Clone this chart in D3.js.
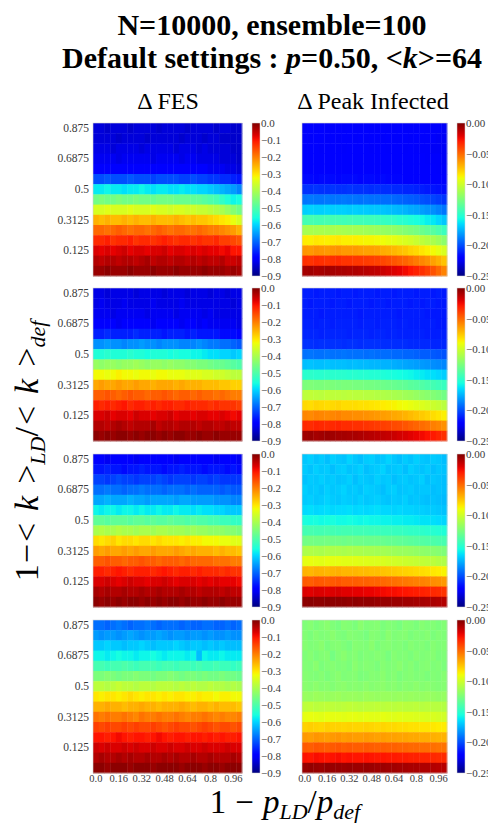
<!DOCTYPE html>
<html>
<meta charset="utf-8">
<title>Delta FES / Delta Peak Infected</title>
<style>
  body { margin: 0; background: #fff; }
  text { font-family: "Liberation Serif", "Times New Roman", serif; }
</style>
<body>
<div id="chart"></div>
<script src="https://d3js.org/d3.v7.min.js"></script>
<script>
// columns: 1 - p_LD/p_def ; rows (top to bottom): 1 - <k>_LD/<k>_def
var xLevels = [0.0,0.04,0.08,0.12,0.16,0.2,0.24,0.28,0.32,0.36,0.4,0.44,0.48,0.52,0.56,0.6,0.64,0.68,0.72,0.76,0.8,0.84,0.88,0.92,0.96,1.0];
var yLevels = [0.875,0.8125,0.75,0.6875,0.625,0.5625,0.5,0.4375,0.375,0.3125,0.25,0.1875,0.125,0.0625,0.0];
var xTickValues = [0.0,0.16,0.32,0.48,0.64,0.8,0.96];
var xTickLabels = ["0.0","0.16","0.32","0.48","0.64","0.8","0.96"];
var yTickValues = [0.875,0.6875,0.5,0.3125,0.125];
var fesTicks = [0,-0.1,-0.2,-0.3,-0.4,-0.5,-0.6,-0.7,-0.8,-0.9];
var peakTicks = [0,-0.05,-0.1,-0.15,-0.2,-0.25];

// Delta FES, one array per row
var fes1 = [
[-.83,-.83,-.84,-.83,-.83,-.83,-.84,-.83,-.83,-.83,-.83,-.84,-.83,-.83,-.83,-.83,-.84,-.83,-.83,-.83,-.83,-.84,-.83,-.83,-.84,-.84],
[-.83,-.83,-.83,-.83,-.84,-.83,-.83,-.83,-.83,-.84,-.83,-.83,-.83,-.83,-.83,-.84,-.83,-.83,-.83,-.84,-.83,-.83,-.84,-.84,-.84,-.84],
[-.82,-.82,-.82,-.83,-.82,-.82,-.82,-.82,-.83,-.82,-.82,-.82,-.82,-.82,-.83,-.82,-.82,-.82,-.83,-.82,-.83,-.83,-.83,-.83,-.84,-.84],
[-.81,-.81,-.81,-.81,-.82,-.81,-.81,-.81,-.81,-.81,-.82,-.81,-.81,-.81,-.81,-.82,-.81,-.81,-.82,-.82,-.82,-.82,-.83,-.83,-.83,-.84],
[-.79,-.79,-.79,-.79,-.79,-.80,-.79,-.79,-.79,-.79,-.79,-.80,-.79,-.79,-.79,-.80,-.80,-.80,-.80,-.80,-.81,-.81,-.81,-.82,-.82,-.83],
[-.72,-.72,-.71,-.72,-.72,-.72,-.71,-.72,-.72,-.72,-.73,-.72,-.72,-.72,-.72,-.73,-.73,-.72,-.73,-.73,-.74,-.74,-.75,-.75,-.76,-.77],
[-.58,-.58,-.57,-.58,-.58,-.59,-.58,-.58,-.57,-.58,-.59,-.58,-.58,-.59,-.59,-.58,-.59,-.59,-.60,-.60,-.61,-.62,-.63,-.64,-.65,-.67],
[-.46,-.45,-.46,-.46,-.45,-.46,-.46,-.45,-.46,-.46,-.47,-.46,-.46,-.46,-.47,-.47,-.47,-.48,-.48,-.49,-.50,-.51,-.53,-.55,-.57,-.56],
[-.35,-.35,-.34,-.35,-.35,-.35,-.34,-.35,-.35,-.35,-.34,-.35,-.35,-.36,-.35,-.35,-.36,-.36,-.37,-.37,-.38,-.39,-.40,-.42,-.44,-.46],
[-.25,-.26,-.25,-.26,-.26,-.25,-.26,-.25,-.26,-.26,-.25,-.26,-.26,-.26,-.25,-.26,-.27,-.26,-.27,-.27,-.28,-.29,-.30,-.31,-.33,-.35],
[-.18,-.18,-.19,-.18,-.17,-.18,-.19,-.18,-.18,-.19,-.18,-.17,-.18,-.19,-.18,-.18,-.19,-.19,-.18,-.19,-.20,-.20,-.21,-.22,-.23,-.25],
[-.12,-.12,-.11,-.13,-.12,-.12,-.11,-.13,-.12,-.12,-.13,-.12,-.11,-.12,-.13,-.12,-.12,-.13,-.12,-.13,-.13,-.12,-.14,-.14,-.15,-.16],
[-.07,-.08,-.07,-.08,-.07,-.06,-.08,-.07,-.07,-.08,-.07,-.07,-.06,-.08,-.07,-.07,-.08,-.07,-.08,-.07,-.08,-.08,-.09,-.08,-.10,-.10],
[-.04,-.05,-.04,-.04,-.05,-.04,-.04,-.05,-.04,-.03,-.05,-.04,-.04,-.05,-.04,-.04,-.05,-.04,-.05,-.04,-.05,-.05,-.04,-.06,-.06,-.05],
[-.02,-.02,-.01,-.02,-.02,-.02,-.01,-.02,-.02,-.02,-.01,-.02,-.02,-.02,-.01,-.02,-.02,-.02,-.02,-.01,-.02,-.02,-.02,-.03,-.02,-.03]
];
var fes2 = [
[-.82,-.82,-.83,-.82,-.82,-.82,-.82,-.83,-.82,-.82,-.82,-.82,-.83,-.82,-.82,-.82,-.83,-.82,-.82,-.82,-.83,-.82,-.82,-.83,-.82,-.82],
[-.82,-.81,-.82,-.82,-.82,-.81,-.82,-.82,-.82,-.82,-.81,-.82,-.82,-.82,-.82,-.81,-.82,-.82,-.82,-.82,-.82,-.82,-.82,-.82,-.83,-.82],
[-.81,-.81,-.81,-.82,-.81,-.81,-.81,-.81,-.81,-.82,-.81,-.81,-.81,-.81,-.82,-.81,-.81,-.81,-.81,-.82,-.81,-.82,-.82,-.82,-.82,-.82],
[-.80,-.80,-.80,-.80,-.81,-.80,-.80,-.80,-.80,-.80,-.81,-.80,-.80,-.80,-.80,-.81,-.80,-.80,-.81,-.80,-.81,-.81,-.81,-.81,-.81,-.82],
[-.76,-.76,-.75,-.76,-.76,-.76,-.76,-.75,-.76,-.76,-.76,-.76,-.77,-.76,-.76,-.76,-.77,-.76,-.77,-.77,-.77,-.77,-.78,-.78,-.78,-.79],
[-.66,-.66,-.65,-.66,-.66,-.67,-.66,-.66,-.65,-.66,-.66,-.67,-.66,-.66,-.66,-.67,-.67,-.67,-.66,-.67,-.68,-.68,-.69,-.69,-.70,-.71],
[-.55,-.55,-.54,-.55,-.55,-.55,-.54,-.55,-.55,-.56,-.55,-.55,-.55,-.56,-.55,-.56,-.56,-.57,-.57,-.58,-.59,-.59,-.60,-.60,-.61,-.60],
[-.42,-.43,-.42,-.42,-.43,-.42,-.42,-.41,-.42,-.43,-.42,-.42,-.43,-.42,-.43,-.43,-.44,-.44,-.45,-.45,-.46,-.47,-.47,-.48,-.49,-.50],
[-.32,-.32,-.33,-.32,-.31,-.32,-.32,-.33,-.32,-.32,-.33,-.32,-.32,-.33,-.33,-.33,-.34,-.34,-.34,-.35,-.35,-.36,-.36,-.37,-.38,-.38],
[-.24,-.23,-.24,-.24,-.23,-.24,-.24,-.23,-.24,-.24,-.25,-.24,-.24,-.24,-.25,-.24,-.25,-.25,-.25,-.26,-.26,-.26,-.27,-.27,-.28,-.28],
[-.17,-.17,-.16,-.17,-.18,-.17,-.16,-.17,-.17,-.18,-.17,-.17,-.16,-.17,-.18,-.17,-.17,-.18,-.17,-.18,-.18,-.19,-.18,-.19,-.20,-.20],
[-.11,-.12,-.11,-.12,-.11,-.10,-.12,-.11,-.11,-.12,-.11,-.12,-.11,-.11,-.12,-.12,-.11,-.12,-.12,-.12,-.13,-.12,-.13,-.13,-.13,-.14],
[-.07,-.07,-.06,-.08,-.07,-.07,-.08,-.06,-.07,-.07,-.08,-.07,-.07,-.06,-.08,-.07,-.07,-.08,-.07,-.07,-.08,-.08,-.07,-.08,-.09,-.08],
[-.04,-.04,-.05,-.04,-.03,-.04,-.05,-.04,-.04,-.04,-.03,-.05,-.04,-.04,-.05,-.04,-.04,-.04,-.05,-.04,-.04,-.05,-.05,-.04,-.05,-.05],
[-.01,-.02,-.01,-.02,-.01,-.01,-.02,-.01,-.02,-.01,-.01,-.02,-.01,-.02,-.01,-.01,-.02,-.02,-.01,-.02,-.02,-.01,-.02,-.02,-.02,-.02]
];
var fes3 = [
[-.80,-.80,-.81,-.80,-.80,-.79,-.80,-.81,-.80,-.80,-.80,-.79,-.80,-.80,-.81,-.80,-.80,-.80,-.79,-.80,-.80,-.81,-.80,-.80,-.80,-.81],
[-.77,-.77,-.76,-.77,-.77,-.78,-.77,-.77,-.76,-.77,-.77,-.77,-.78,-.77,-.77,-.76,-.77,-.77,-.77,-.78,-.77,-.77,-.77,-.78,-.77,-.78],
[-.73,-.73,-.74,-.73,-.72,-.73,-.73,-.74,-.73,-.73,-.73,-.72,-.73,-.74,-.73,-.73,-.73,-.74,-.73,-.73,-.74,-.73,-.74,-.74,-.74,-.74],
[-.69,-.69,-.68,-.69,-.69,-.70,-.69,-.69,-.68,-.69,-.69,-.69,-.70,-.69,-.69,-.69,-.70,-.69,-.70,-.70,-.70,-.70,-.71,-.70,-.71,-.71],
[-.64,-.64,-.63,-.64,-.64,-.64,-.63,-.64,-.64,-.65,-.64,-.64,-.64,-.64,-.65,-.64,-.64,-.65,-.65,-.65,-.65,-.66,-.66,-.66,-.67,-.67],
[-.57,-.58,-.57,-.57,-.58,-.57,-.57,-.58,-.57,-.58,-.58,-.57,-.58,-.58,-.57,-.58,-.58,-.59,-.58,-.59,-.59,-.60,-.60,-.61,-.61,-.61],
[-.48,-.48,-.49,-.48,-.48,-.48,-.49,-.48,-.48,-.49,-.48,-.49,-.49,-.48,-.49,-.49,-.50,-.49,-.50,-.50,-.51,-.51,-.52,-.52,-.53,-.53],
[-.40,-.39,-.40,-.40,-.39,-.40,-.40,-.41,-.40,-.40,-.41,-.40,-.40,-.41,-.41,-.41,-.42,-.41,-.42,-.42,-.43,-.43,-.43,-.44,-.44,-.45],
[-.29,-.30,-.29,-.28,-.30,-.29,-.29,-.30,-.29,-.29,-.30,-.29,-.30,-.30,-.30,-.31,-.30,-.31,-.31,-.32,-.32,-.32,-.33,-.33,-.34,-.34],
[-.23,-.24,-.23,-.24,-.24,-.23,-.24,-.23,-.24,-.24,-.23,-.24,-.24,-.24,-.23,-.24,-.25,-.24,-.25,-.25,-.25,-.26,-.25,-.26,-.26,-.27],
[-.17,-.17,-.16,-.17,-.17,-.18,-.17,-.17,-.16,-.17,-.17,-.18,-.17,-.17,-.17,-.18,-.17,-.18,-.18,-.18,-.18,-.19,-.19,-.19,-.20,-.20],
[-.11,-.11,-.12,-.11,-.10,-.11,-.12,-.11,-.11,-.11,-.12,-.11,-.10,-.11,-.12,-.11,-.11,-.12,-.11,-.12,-.12,-.12,-.13,-.12,-.13,-.13],
[-.07,-.07,-.06,-.07,-.08,-.07,-.06,-.07,-.07,-.08,-.07,-.07,-.06,-.07,-.08,-.07,-.07,-.07,-.08,-.07,-.08,-.07,-.08,-.08,-.08,-.09],
[-.03,-.04,-.03,-.04,-.04,-.03,-.04,-.04,-.03,-.04,-.04,-.03,-.04,-.04,-.04,-.03,-.04,-.04,-.05,-.04,-.04,-.04,-.05,-.04,-.05,-.05],
[-.01,-.02,-.01,-.02,-.01,-.02,-.01,-.01,-.02,-.01,-.02,-.01,-.02,-.01,-.01,-.02,-.01,-.02,-.02,-.01,-.02,-.02,-.01,-.02,-.02,-.02]
];
var fes4 = [
[-.69,-.69,-.70,-.69,-.68,-.69,-.70,-.69,-.69,-.68,-.69,-.70,-.69,-.69,-.69,-.70,-.69,-.70,-.70,-.69,-.69,-.70,-.70,-.69,-.70,-.69],
[-.65,-.66,-.65,-.65,-.66,-.65,-.64,-.65,-.66,-.65,-.65,-.64,-.65,-.66,-.65,-.65,-.66,-.65,-.65,-.66,-.65,-.66,-.66,-.65,-.66,-.66],
[-.61,-.61,-.60,-.61,-.61,-.62,-.61,-.61,-.60,-.61,-.62,-.61,-.61,-.61,-.60,-.61,-.62,-.61,-.61,-.62,-.61,-.62,-.61,-.62,-.62,-.62],
[-.57,-.57,-.58,-.57,-.56,-.57,-.57,-.58,-.57,-.57,-.56,-.57,-.58,-.57,-.57,-.57,-.58,-.57,-.62,-.57,-.58,-.58,-.57,-.58,-.58,-.58],
[-.51,-.51,-.52,-.51,-.51,-.50,-.51,-.52,-.51,-.51,-.51,-.52,-.51,-.51,-.52,-.51,-.51,-.52,-.51,-.52,-.52,-.51,-.52,-.52,-.53,-.52],
[-.45,-.45,-.44,-.45,-.46,-.45,-.45,-.44,-.45,-.45,-.46,-.45,-.45,-.44,-.45,-.46,-.45,-.45,-.46,-.45,-.46,-.46,-.45,-.46,-.46,-.47],
[-.38,-.38,-.39,-.38,-.37,-.38,-.38,-.39,-.38,-.38,-.39,-.38,-.38,-.38,-.39,-.38,-.39,-.38,-.39,-.39,-.38,-.39,-.39,-.40,-.39,-.40],
[-.30,-.31,-.30,-.30,-.31,-.30,-.29,-.30,-.31,-.30,-.30,-.31,-.30,-.31,-.30,-.30,-.31,-.31,-.30,-.31,-.31,-.32,-.31,-.31,-.32,-.32],
[-.25,-.25,-.24,-.25,-.25,-.26,-.25,-.25,-.24,-.25,-.25,-.26,-.25,-.25,-.25,-.24,-.25,-.26,-.25,-.25,-.26,-.25,-.26,-.26,-.26,-.27],
[-.19,-.20,-.19,-.20,-.20,-.19,-.20,-.21,-.19,-.20,-.20,-.19,-.20,-.20,-.19,-.20,-.21,-.20,-.20,-.19,-.20,-.21,-.20,-.21,-.21,-.20],
[-.14,-.15,-.14,-.15,-.15,-.14,-.15,-.14,-.15,-.15,-.14,-.15,-.16,-.15,-.14,-.15,-.15,-.16,-.15,-.14,-.15,-.16,-.15,-.15,-.16,-.15],
[-.10,-.10,-.11,-.10,-.09,-.10,-.11,-.10,-.10,-.11,-.10,-.09,-.10,-.11,-.10,-.10,-.11,-.10,-.10,-.11,-.10,-.11,-.10,-.11,-.11,-.10],
[-.06,-.07,-.06,-.07,-.07,-.06,-.07,-.06,-.07,-.07,-.06,-.07,-.07,-.06,-.07,-.07,-.06,-.07,-.07,-.06,-.07,-.07,-.07,-.06,-.07,-.07],
[-.04,-.03,-.04,-.04,-.03,-.04,-.03,-.04,-.04,-.03,-.04,-.04,-.03,-.04,-.03,-.04,-.04,-.03,-.04,-.04,-.03,-.04,-.04,-.04,-.03,-.04],
[-.01,-.01,-.02,-.01,-.01,-.01,-.02,-.01,-.01,-.01,-.02,-.01,-.01,-.01,-.01,-.02,-.01,-.01,-.01,-.02,-.01,-.01,-.02,-.01,-.01,-.01]
];

// Delta Peak Infected, one array per row
var peak1 = [
[-.223,-.222,-.223,-.222,-.223,-.223,-.222,-.223,-.222,-.223,-.223,-.222,-.223,-.223,-.222,-.223,-.223,-.222,-.223,-.223,-.223,-.222,-.223,-.223,-.223,-.224],
[-.222,-.223,-.222,-.222,-.223,-.222,-.223,-.222,-.222,-.223,-.222,-.223,-.222,-.222,-.223,-.222,-.223,-.223,-.222,-.223,-.222,-.223,-.223,-.223,-.224,-.224],
[-.222,-.222,-.222,-.223,-.222,-.222,-.222,-.223,-.222,-.222,-.222,-.222,-.223,-.222,-.222,-.223,-.222,-.222,-.223,-.222,-.223,-.223,-.223,-.224,-.224,-.224],
[-.221,-.221,-.222,-.221,-.221,-.221,-.222,-.221,-.221,-.221,-.221,-.222,-.221,-.221,-.222,-.221,-.221,-.222,-.222,-.222,-.222,-.222,-.223,-.223,-.223,-.224],
[-.220,-.220,-.220,-.220,-.221,-.220,-.220,-.220,-.220,-.221,-.220,-.220,-.220,-.221,-.220,-.220,-.221,-.221,-.221,-.221,-.221,-.222,-.222,-.222,-.223,-.223],
[-.217,-.217,-.218,-.217,-.217,-.217,-.218,-.217,-.217,-.217,-.218,-.217,-.217,-.218,-.217,-.218,-.218,-.218,-.219,-.219,-.219,-.220,-.220,-.221,-.221,-.222],
[-.207,-.207,-.206,-.207,-.207,-.206,-.207,-.207,-.206,-.207,-.207,-.207,-.208,-.207,-.208,-.208,-.209,-.209,-.210,-.210,-.211,-.212,-.213,-.214,-.215,-.216],
[-.190,-.189,-.190,-.190,-.189,-.190,-.190,-.189,-.190,-.190,-.191,-.190,-.191,-.191,-.192,-.192,-.193,-.194,-.195,-.196,-.197,-.199,-.200,-.202,-.204,-.206],
[-.168,-.167,-.168,-.168,-.167,-.168,-.168,-.168,-.169,-.168,-.169,-.169,-.170,-.170,-.171,-.172,-.173,-.174,-.175,-.177,-.178,-.180,-.182,-.184,-.187,-.190],
[-.142,-.141,-.142,-.142,-.141,-.142,-.142,-.143,-.142,-.143,-.143,-.144,-.144,-.145,-.146,-.147,-.148,-.150,-.151,-.153,-.155,-.157,-.160,-.162,-.166,-.170],
[-.112,-.111,-.112,-.111,-.112,-.112,-.111,-.112,-.113,-.113,-.113,-.114,-.115,-.116,-.117,-.118,-.119,-.121,-.123,-.125,-.127,-.130,-.133,-.136,-.140,-.145],
[-.085,-.086,-.084,-.085,-.086,-.085,-.084,-.086,-.086,-.086,-.087,-.088,-.088,-.089,-.090,-.092,-.093,-.095,-.097,-.099,-.102,-.105,-.108,-.111,-.115,-.120],
[-.062,-.063,-.061,-.062,-.063,-.062,-.061,-.063,-.063,-.063,-.064,-.065,-.065,-.066,-.068,-.069,-.071,-.073,-.075,-.078,-.080,-.083,-.086,-.089,-.093,-.097],
[-.035,-.036,-.034,-.035,-.036,-.035,-.034,-.036,-.036,-.037,-.037,-.038,-.039,-.040,-.041,-.043,-.045,-.047,-.049,-.052,-.055,-.058,-.061,-.065,-.069,-.074],
[-.008,-.007,-.009,-.008,-.007,-.008,-.009,-.009,-.010,-.010,-.011,-.012,-.013,-.014,-.016,-.018,-.020,-.022,-.025,-.028,-.031,-.035,-.039,-.044,-.050,-.057]
];
var peak2 = [
[-.212,-.212,-.213,-.212,-.212,-.212,-.213,-.212,-.212,-.213,-.212,-.212,-.212,-.213,-.212,-.212,-.213,-.212,-.212,-.212,-.213,-.212,-.212,-.213,-.212,-.213],
[-.212,-.213,-.212,-.212,-.212,-.213,-.212,-.212,-.213,-.212,-.212,-.212,-.213,-.212,-.212,-.213,-.212,-.212,-.212,-.213,-.212,-.213,-.212,-.212,-.213,-.213],
[-.212,-.212,-.212,-.213,-.212,-.212,-.212,-.212,-.212,-.212,-.213,-.212,-.212,-.212,-.212,-.212,-.212,-.213,-.212,-.212,-.212,-.212,-.213,-.213,-.213,-.213],
[-.211,-.211,-.212,-.211,-.211,-.212,-.211,-.211,-.211,-.211,-.212,-.211,-.211,-.212,-.211,-.211,-.211,-.212,-.211,-.212,-.212,-.212,-.212,-.212,-.213,-.213],
[-.210,-.210,-.210,-.211,-.210,-.210,-.210,-.210,-.211,-.210,-.210,-.210,-.211,-.210,-.210,-.211,-.210,-.211,-.211,-.211,-.211,-.211,-.212,-.212,-.212,-.212],
[-.207,-.207,-.208,-.207,-.207,-.207,-.207,-.208,-.207,-.207,-.208,-.207,-.207,-.207,-.208,-.208,-.208,-.208,-.208,-.209,-.209,-.209,-.209,-.210,-.210,-.210],
[-.191,-.190,-.191,-.191,-.190,-.191,-.191,-.190,-.191,-.191,-.191,-.192,-.191,-.192,-.192,-.192,-.193,-.193,-.194,-.194,-.195,-.196,-.196,-.197,-.198,-.199],
[-.172,-.171,-.172,-.172,-.171,-.172,-.172,-.172,-.173,-.172,-.173,-.173,-.174,-.174,-.175,-.175,-.176,-.177,-.178,-.179,-.180,-.181,-.182,-.184,-.185,-.186],
[-.150,-.149,-.150,-.150,-.149,-.150,-.150,-.150,-.151,-.150,-.151,-.151,-.152,-.152,-.153,-.154,-.155,-.156,-.157,-.158,-.160,-.161,-.163,-.164,-.166,-.168],
[-.125,-.124,-.125,-.125,-.124,-.125,-.126,-.125,-.125,-.126,-.126,-.127,-.127,-.128,-.129,-.130,-.131,-.132,-.133,-.135,-.136,-.138,-.140,-.142,-.144,-.146],
[-.105,-.104,-.105,-.106,-.104,-.105,-.105,-.106,-.105,-.106,-.106,-.107,-.107,-.108,-.109,-.110,-.111,-.112,-.114,-.115,-.117,-.119,-.121,-.123,-.125,-.128],
[-.080,-.081,-.079,-.080,-.081,-.080,-.079,-.081,-.081,-.081,-.082,-.082,-.083,-.084,-.085,-.086,-.087,-.089,-.090,-.092,-.094,-.096,-.098,-.101,-.103,-.106],
[-.058,-.059,-.057,-.058,-.059,-.058,-.057,-.059,-.059,-.060,-.060,-.061,-.062,-.063,-.064,-.065,-.067,-.068,-.070,-.072,-.074,-.076,-.078,-.081,-.083,-.086],
[-.033,-.034,-.032,-.033,-.034,-.033,-.032,-.034,-.034,-.035,-.035,-.036,-.037,-.038,-.039,-.040,-.042,-.043,-.045,-.047,-.049,-.051,-.053,-.056,-.058,-.061],
[-.007,-.006,-.008,-.007,-.006,-.007,-.008,-.008,-.009,-.009,-.010,-.011,-.012,-.013,-.014,-.015,-.016,-.018,-.019,-.021,-.023,-.025,-.027,-.029,-.032,-.035]
];
var peak3 = [
[-.170,-.168,-.171,-.169,-.172,-.168,-.170,-.171,-.167,-.170,-.172,-.169,-.168,-.171,-.170,-.167,-.170,-.172,-.169,-.171,-.168,-.170,-.171,-.169,-.170,-.172],
[-.169,-.171,-.168,-.170,-.169,-.172,-.169,-.168,-.171,-.170,-.168,-.172,-.170,-.169,-.167,-.171,-.170,-.169,-.172,-.168,-.170,-.171,-.169,-.172,-.170,-.171],
[-.171,-.169,-.170,-.168,-.170,-.169,-.171,-.170,-.168,-.172,-.169,-.170,-.171,-.168,-.170,-.169,-.172,-.170,-.169,-.171,-.170,-.168,-.172,-.170,-.171,-.172],
[-.168,-.170,-.169,-.171,-.168,-.170,-.169,-.167,-.170,-.169,-.171,-.168,-.169,-.170,-.172,-.169,-.168,-.171,-.170,-.169,-.171,-.170,-.170,-.172,-.171,-.172],
[-.169,-.168,-.170,-.169,-.167,-.169,-.170,-.168,-.169,-.170,-.168,-.170,-.169,-.168,-.170,-.171,-.169,-.170,-.168,-.171,-.170,-.171,-.172,-.171,-.172,-.173],
[-.165,-.164,-.166,-.165,-.164,-.166,-.165,-.165,-.164,-.166,-.165,-.166,-.165,-.164,-.166,-.166,-.167,-.166,-.167,-.167,-.168,-.168,-.169,-.169,-.170,-.171],
[-.155,-.156,-.155,-.157,-.156,-.155,-.157,-.157,-.156,-.157,-.158,-.157,-.158,-.158,-.159,-.159,-.160,-.160,-.161,-.161,-.162,-.163,-.163,-.164,-.165,-.166],
[-.142,-.141,-.142,-.142,-.141,-.142,-.143,-.142,-.142,-.143,-.143,-.143,-.144,-.144,-.145,-.145,-.146,-.146,-.147,-.148,-.148,-.149,-.150,-.151,-.152,-.153],
[-.128,-.127,-.128,-.128,-.127,-.128,-.128,-.129,-.128,-.129,-.129,-.130,-.130,-.130,-.131,-.132,-.132,-.133,-.134,-.135,-.136,-.137,-.138,-.139,-.140,-.141],
[-.110,-.109,-.110,-.111,-.109,-.110,-.110,-.111,-.110,-.111,-.111,-.112,-.112,-.113,-.113,-.114,-.115,-.116,-.116,-.117,-.118,-.119,-.120,-.121,-.122,-.124],
[-.093,-.092,-.093,-.094,-.092,-.093,-.093,-.094,-.094,-.094,-.095,-.095,-.096,-.096,-.097,-.098,-.099,-.100,-.101,-.102,-.103,-.104,-.105,-.106,-.108,-.109],
[-.070,-.071,-.069,-.070,-.071,-.070,-.069,-.071,-.071,-.071,-.072,-.072,-.073,-.073,-.074,-.075,-.076,-.077,-.078,-.079,-.080,-.081,-.082,-.084,-.085,-.087],
[-.046,-.047,-.045,-.046,-.047,-.046,-.045,-.047,-.047,-.047,-.048,-.048,-.049,-.049,-.050,-.051,-.052,-.053,-.054,-.055,-.056,-.057,-.058,-.060,-.061,-.063],
[-.020,-.021,-.019,-.020,-.021,-.020,-.019,-.021,-.021,-.022,-.022,-.023,-.023,-.024,-.025,-.026,-.026,-.027,-.028,-.029,-.030,-.031,-.032,-.033,-.034,-.036],
[-.003,-.002,-.003,-.003,-.002,-.003,-.003,-.003,-.004,-.003,-.004,-.004,-.004,-.005,-.005,-.005,-.006,-.006,-.007,-.007,-.008,-.008,-.009,-.009,-.010,-.011]
];
var peak4 = [
[-.124,-.122,-.125,-.123,-.121,-.124,-.126,-.122,-.123,-.125,-.121,-.124,-.123,-.122,-.125,-.123,-.124,-.126,-.122,-.123,-.125,-.122,-.124,-.123,-.125,-.123],
[-.123,-.125,-.122,-.124,-.123,-.121,-.124,-.125,-.122,-.123,-.124,-.126,-.122,-.123,-.125,-.121,-.124,-.123,-.122,-.125,-.123,-.124,-.122,-.125,-.123,-.124],
[-.122,-.124,-.123,-.121,-.125,-.123,-.122,-.124,-.126,-.122,-.123,-.124,-.121,-.125,-.123,-.122,-.124,-.123,-.125,-.122,-.124,-.123,-.125,-.122,-.124,-.123],
[-.124,-.122,-.125,-.123,-.122,-.127,-.123,-.121,-.124,-.122,-.125,-.123,-.124,-.122,-.123,-.126,-.122,-.124,-.123,-.125,-.122,-.124,-.123,-.122,-.125,-.124],
[-.123,-.124,-.121,-.125,-.123,-.122,-.124,-.123,-.125,-.121,-.124,-.122,-.123,-.125,-.122,-.124,-.123,-.121,-.124,-.122,-.125,-.123,-.122,-.124,-.123,-.125],
[-.122,-.123,-.124,-.122,-.125,-.123,-.121,-.124,-.123,-.122,-.125,-.124,-.122,-.123,-.121,-.124,-.122,-.125,-.123,-.122,-.124,-.123,-.125,-.123,-.124,-.122],
[-.121,-.122,-.120,-.122,-.121,-.123,-.121,-.120,-.122,-.121,-.122,-.120,-.122,-.121,-.120,-.122,-.121,-.123,-.121,-.122,-.120,-.122,-.121,-.122,-.123,-.122],
[-.116,-.117,-.115,-.116,-.117,-.116,-.115,-.117,-.116,-.116,-.117,-.115,-.116,-.117,-.116,-.116,-.117,-.116,-.117,-.116,-.117,-.117,-.116,-.117,-.118,-.117],
[-.105,-.104,-.106,-.105,-.104,-.105,-.106,-.105,-.104,-.105,-.106,-.105,-.105,-.104,-.106,-.105,-.106,-.105,-.106,-.106,-.105,-.107,-.106,-.107,-.107,-.108],
[-.093,-.092,-.093,-.094,-.092,-.093,-.093,-.094,-.093,-.093,-.094,-.093,-.094,-.094,-.093,-.094,-.095,-.094,-.095,-.095,-.096,-.096,-.097,-.097,-.098,-.099],
[-.078,-.077,-.078,-.079,-.077,-.078,-.078,-.079,-.078,-.079,-.079,-.078,-.079,-.080,-.079,-.080,-.080,-.081,-.081,-.082,-.082,-.083,-.083,-.084,-.085,-.085],
[-.063,-.064,-.062,-.063,-.064,-.063,-.062,-.064,-.063,-.064,-.064,-.063,-.064,-.065,-.064,-.065,-.065,-.066,-.066,-.067,-.067,-.068,-.068,-.069,-.070,-.070],
[-.046,-.047,-.045,-.046,-.047,-.046,-.045,-.047,-.046,-.047,-.047,-.046,-.047,-.048,-.047,-.048,-.048,-.049,-.049,-.050,-.050,-.051,-.051,-.052,-.053,-.053],
[-.027,-.028,-.026,-.027,-.028,-.027,-.026,-.028,-.027,-.028,-.028,-.027,-.028,-.029,-.028,-.029,-.029,-.030,-.030,-.031,-.031,-.032,-.032,-.033,-.034,-.034],
[-.005,-.004,-.005,-.006,-.004,-.005,-.005,-.006,-.005,-.006,-.006,-.005,-.006,-.007,-.006,-.007,-.007,-.008,-.008,-.009,-.009,-.010,-.010,-.011,-.012,-.012]
];

var width = 488, height = 823;
var svg = d3.select("#chart").append("svg")
  .attr("width", width)
  .attr("height", height)
  .style("display", "block");

// matplotlib "jet"
var jetR = d3.scaleLinear().domain([0, 0.35, 0.66, 0.89, 1]).range([0, 0, 1, 1, 0.5]).clamp(true);
var jetG = d3.scaleLinear().domain([0, 0.125, 0.375, 0.64, 0.91, 1]).range([0, 0, 1, 1, 0, 0]).clamp(true);
var jetB = d3.scaleLinear().domain([0, 0.11, 0.34, 0.65, 1]).range([0.5, 1, 1, 0, 0]).clamp(true);
function jet(t) {
  return d3.rgb(jetR(t) * 255, jetG(t) * 255, jetB(t) * 255).formatHex();
}

var rowTops = [123, 288, 454, 620];
var panelH = 153;
var columns = [
  { x: 93, w: 149, bar: 252, min: -0.9, ticks: fesTicks, fmt: d3.format(".1f"), data: [fes1, fes2, fes3, fes4] },
  { x: 302, w: 145, bar: 457, min: -0.25, ticks: peakTicks, fmt: d3.format(".2f"), data: [peak1, peak2, peak3, peak4] }
];
var barW = 8;
var tickColor = "#3a3a3a";

// gradient for colorbars (top = 0 = dark red)
var defs = svg.append("defs");
var grad = defs.append("linearGradient").attr("id", "jetGrad")
  .attr("x1", 0).attr("y1", 1).attr("x2", 0).attr("y2", 0);
d3.range(0, 1.0001, 0.02).forEach(function (t) {
  grad.append("stop").attr("offset", t).attr("stop-color", jet(t));
});

columns.forEach(function (col, ci) {
  var tScale = d3.scaleLinear().domain([col.min, 0]).range([0, 1]).clamp(true);

  col.data.forEach(function (grid, ri) {
    var top = rowTops[ri];
    var x = d3.scaleBand().domain(xLevels).range([col.x, col.x + col.w]);
    var y = d3.scaleBand().domain(yLevels).range([top, top + panelH]);

    var cells = [];
    grid.forEach(function (row, i) {
      row.forEach(function (v, j) {
        cells.push({ xv: xLevels[j], yv: yLevels[i], v: v });
      });
    });

    var g = svg.append("g");
    g.selectAll("rect.cell")
      .data(cells)
      .enter().append("rect")
      .attr("class", "cell")
      .attr("x", function (d) { return x(d.xv); })
      .attr("y", function (d) { return y(d.yv); })
      .attr("width", x.bandwidth() + 0.4)
      .attr("height", y.bandwidth() + 0.4)
      .attr("fill", function (d) { return jet(tScale(d.v)); });

    g.append("rect")
      .attr("x", col.x).attr("y", top)
      .attr("width", col.w).attr("height", panelH)
      .attr("fill", "none")
      .attr("stroke", "#d4d4d4")
      .attr("stroke-width", 0.6);

    if (ci === 0) {
      var ya = svg.append("g")
        .attr("transform", "translate(" + (col.x - 1) + ",0)")
        .call(d3.axisLeft(y).tickValues(yTickValues).tickSize(0).tickPadding(3));
      ya.select(".domain").remove();
      ya.selectAll("text")
        .style("font-family", "Liberation Serif")
        .style("font-size", "11.5px")
        .attr("fill", tickColor);
    }
    if (ri === 3) {
      var xa = svg.append("g")
        .attr("transform", "translate(0," + (top + panelH) + ")")
        .call(d3.axisBottom(x).tickValues(xTickValues).tickSize(0).tickPadding(2)
          .tickFormat(function (d, i) { return xTickLabels[i]; }));
      xa.select(".domain").remove();
      xa.selectAll("text")
        .style("font-family", "Liberation Serif")
        .style("font-size", "10.5px")
        .attr("fill", tickColor);
    }

    // colorbar
    var cb = d3.scaleLinear().domain([col.min, 0]).range([top + panelH, top]);
    svg.append("rect")
      .attr("x", col.bar).attr("y", top)
      .attr("width", barW).attr("height", panelH)
      .attr("fill", "url(#jetGrad)")
      .attr("stroke", "#d4d4d4").attr("stroke-width", 0.5);
    var ca = svg.append("g")
      .attr("transform", "translate(" + (col.bar + barW) + ",0)")
      .call(d3.axisRight(cb).tickValues(col.ticks).tickFormat(col.fmt).tickSize(0).tickPadding(1));
    ca.select(".domain").remove();
    ca.selectAll("text")
      .style("font-family", "Liberation Serif")
      .style("font-size", "11px")
      .attr("fill", tickColor);
  });
});

// titles
svg.append("text")
  .attr("x", 272).attr("y", 35)
  .attr("text-anchor", "middle")
  .style("font-size", "30px").style("font-weight", "bold")
  .text("N=10000, ensemble=100");

var t2 = svg.append("text")
  .attr("x", 272).attr("y", 68)
  .attr("text-anchor", "middle")
  .style("font-size", "30px").style("font-weight", "bold");
t2.append("tspan").text("Default settings : ");
t2.append("tspan").style("font-style", "italic").text("p");
t2.append("tspan").text("=0.50, <");
t2.append("tspan").style("font-style", "italic").text("k");
t2.append("tspan").text(">=64");

svg.append("text")
  .attr("x", 168).attr("y", 109)
  .attr("text-anchor", "middle")
  .style("font-size", "24px")
  .text("\u0394 FES");
svg.append("text")
  .attr("x", 373).attr("y", 109)
  .attr("text-anchor", "middle")
  .style("font-size", "24px")
  .text("\u0394 Peak Infected");

// axis labels, built from pieces with extra math spacing
function mathLabel(sel, parts) {
  parts.forEach(function (p) {
    var ts = sel.append("tspan").text(p.t);
    if (p.it) ts.style("font-style", "italic");
    if (p.sub) ts.style("font-size", "22px");
    if (p.dx) ts.attr("dx", p.dx);
    if (p.dy) ts.attr("dy", p.dy);
  });
}

var yl = svg.append("text")
  .attr("transform", "translate(38,451) rotate(-90)")
  .attr("text-anchor", "middle")
  .style("font-size", "34px");
mathLabel(yl, [
  { t: "1" }, { t: "\u2212", dx: 1 }, { t: "<", dx: 2 }, { t: "k", it: true, dx: 12 },
  { t: ">", dx: 12 }, { t: "LD", it: true, sub: true, dy: 7 }, { t: "/", dy: -7 },
  { t: "<", dx: 2 }, { t: "k", it: true, dx: 12 }, { t: ">", dx: 12 },
  { t: "def", it: true, sub: true, dy: 7 }
]);

var xl = svg.append("text")
  .attr("x", 285).attr("y", 813)
  .attr("text-anchor", "middle")
  .style("font-size", "33px");
mathLabel(xl, [
  { t: "1" }, { t: "\u2212", dx: 9 }, { t: "p", it: true, dx: 9 },
  { t: "LD", it: true, sub: true, dy: 6 }, { t: "/", dy: -6 },
  { t: "p", it: true }, { t: "def", it: true, sub: true, dy: 6 }
]);
</script>
</body>
</html>
